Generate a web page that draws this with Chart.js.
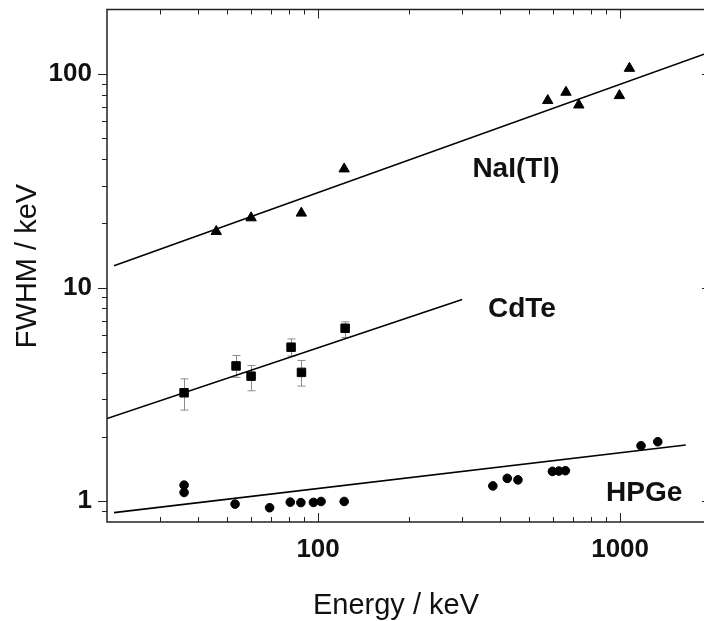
<!DOCTYPE html>
<html>
<head>
<meta charset="utf-8">
<script src="https://cdn.jsdelivr.net/npm/chart.js@4.4.1/dist/chart.umd.min.js"></script>
<style>
  html, body { margin: 0; padding: 0; overflow: hidden; background: #fff; }
  #wrap { position: relative; width: 712px; height: 621px; }
  canvas { display: block; }
</style>
</head>
<body>
<div id="wrap"><canvas id="c"></canvas></div>
<script>
// Measured resolution (FWHM) of three detector types versus gamma energy.

// NaI(Tl) scintillator
const naiEnergy = [46, 60, 88, 122, 576, 662, 730, 995, 1074];
const naiFwhm   = [18.3, 21.2, 22.3, 35.9, 75.0, 82.0, 71.5, 79.1, 106.1];

// CdTe semiconductor, with uncertainty range
const cdteEnergy  = [36, 53.5, 60, 81.4, 88.1, 122.9];
const cdteFwhm    = [3.22, 4.30, 3.85, 5.26, 4.01, 6.45];
const cdteErrLow  = [2.67, 3.80, 3.29, 4.78, 3.46, 5.84];
const cdteErrHigh = [3.74, 4.81, 4.32, 5.75, 4.56, 6.91];

// HPGe semiconductor
const hpgeEnergy = [36, 36, 53.1, 69.1, 80.9, 87.7, 96.5, 102.3, 122, 379, 423, 459, 597, 627, 659, 1173, 1333];
const hpgeFwhm   = [1.19, 1.10, 0.97, 0.933, 0.991, 0.986, 0.988, 0.998, 0.998, 1.18, 1.28, 1.26, 1.38, 1.385, 1.39, 1.82, 1.90];

// Power-law fit lines (end points)
const naiFitEnergy  = [21.1, 2000];
const naiFitFwhm    = [12.66, 127];
const cdteFitEnergy = [20, 300];
const cdteFitFwhm   = [2.44, 8.8];
const hpgeFitEnergy = [21.1, 1650];
const hpgeFitFwhm   = [0.885, 1.835];

// Axis ranges and labelled ticks
const energyRange = [20, 2000];
const fwhmRange   = [0.8, 200];
const energyTickLabels = [100, 1000];
const fwhmTickLabels   = [1, 10, 100];

const FONT = '"Liberation Sans", Arial, Helvetica, sans-serif';
const INK = '#111';

const pts = (xs, ys) => xs.map((x, i) => ({ x, y: ys[i] }));
const near = (v, list) => list.some(t => Math.abs(v - t) / t < 1e-6);

// 1..9 × 10^n tick positions inside a log range; decade flag marks the long ticks
function logTicks(min, max) {
  const out = [];
  for (let e = Math.floor(Math.log10(min)); e <= Math.ceil(Math.log10(max)); e++) {
    for (let m = 1; m <= 9; m++) {
      const v = m * Math.pow(10, e);
      if (v > min * 1.0001 && v < max * 0.9999) out.push({ v, decade: m === 1 });
    }
  }
  return out;
}

const seriesLabels = [
  { text: 'NaI(Tl)', energy: 452, fwhm: 36.8 },
  { text: 'CdTe',    energy: 473, fwhm: 8.1 },
  { text: 'HPGe',    energy: 1201, fwhm: 1.12 }
];

const framePlugin = {
  id: 'frame',
  beforeDatasetsDraw(chart) {
    const { ctx, chartArea: a, scales: { x, y } } = chart;
    ctx.save();
    // error bars for CdTe
    ctx.strokeStyle = '#8c8c8c';
    ctx.lineWidth = 1;
    ctx.beginPath();
    cdteEnergy.forEach((e, i) => {
      const px = Math.round(x.getPixelForValue(e)) + 0.5;
      const hi = y.getPixelForValue(cdteErrHigh[i]);
      const lo = y.getPixelForValue(cdteErrLow[i]);
      ctx.moveTo(px, hi); ctx.lineTo(px, lo);
      ctx.moveTo(px - 4, hi); ctx.lineTo(px + 4, hi);
      ctx.moveTo(px - 4, lo); ctx.lineTo(px + 4, lo);
    });
    ctx.stroke();

    // frame
    ctx.strokeStyle = '#222';
    ctx.lineWidth = 1.5;
    ctx.strokeRect(a.left, a.top, a.right - a.left, a.bottom - a.top);

    // tick marks: energy ticks point inward, FWHM ticks outward on the left, inward on the right
    ctx.lineWidth = 1;
    ctx.beginPath();
    logTicks(energyRange[0], energyRange[1]).forEach(t => {
      const px = Math.round(x.getPixelForValue(t.v)) + 0.5;
      const len = t.decade ? 9 : 5;
      ctx.moveTo(px, a.bottom); ctx.lineTo(px, a.bottom - len);
      ctx.moveTo(px, a.top); ctx.lineTo(px, a.top + len);
    });
    logTicks(fwhmRange[0], fwhmRange[1]).forEach(t => {
      const py = Math.round(y.getPixelForValue(t.v)) + 0.5;
      const len = t.decade ? 9 : 5;
      ctx.moveTo(a.left, py); ctx.lineTo(a.left - len, py);
      ctx.moveTo(a.right, py); ctx.lineTo(a.right - len, py);
    });
    ctx.stroke();
    ctx.restore();
  },
  afterDraw(chart) {
    const { ctx, scales: { x, y } } = chart;
    ctx.save();
    ctx.fillStyle = INK;

    // series names
    ctx.font = 'bold 28px ' + FONT;
    ctx.textAlign = 'center';
    ctx.textBaseline = 'alphabetic';
    seriesLabels.forEach(l => {
      ctx.fillText(l.text, x.getPixelForValue(l.energy), y.getPixelForValue(l.fwhm) + 10);
    });

    // axis titles
    ctx.font = '29px ' + FONT;
    ctx.fillText('Energy / keV', 396, 614);
    ctx.translate(36, 266);
    ctx.rotate(-Math.PI / 2);
    ctx.fillText('FWHM / keV', 0, 0);
    ctx.restore();
  }
};

const tickFont = { family: FONT, size: 26, weight: 'bold' };

new Chart(document.getElementById('c'), {
  type: 'scatter',
  data: {
    datasets: [
      { data: pts(naiFitEnergy, naiFitFwhm), showLine: true, borderColor: '#000', borderWidth: 1.6, pointRadius: 0 },
      { data: pts(cdteFitEnergy, cdteFitFwhm), showLine: true, borderColor: '#000', borderWidth: 1.6, pointRadius: 0 },
      { data: pts(hpgeFitEnergy, hpgeFitFwhm), showLine: true, borderColor: '#000', borderWidth: 1.6, pointRadius: 0 },
      { data: pts(naiEnergy, naiFwhm), pointStyle: 'triangle', pointRadius: 6, backgroundColor: '#000', borderColor: '#000', borderWidth: 1 },
      { data: pts(cdteEnergy, cdteFwhm), pointStyle: 'rect', pointRadius: 6, backgroundColor: '#000', borderColor: '#000', borderWidth: 1 },
      { data: pts(hpgeEnergy, hpgeFwhm), pointStyle: 'circle', pointRadius: 4.3, backgroundColor: '#000', borderColor: '#000', borderWidth: 1 }
    ]
  },
  options: {
    responsive: true,
    maintainAspectRatio: false,
    devicePixelRatio: 1,
    animation: false,
    events: [],
    layout: { autoPadding: false, padding: { top: 9.5, right: 1, bottom: 0, left: 0 } },
    plugins: { legend: { display: false }, tooltip: { enabled: false } },
    scales: {
      x: {
        type: 'logarithmic',
        position: 'bottom',
        min: energyRange[0],
        max: energyRange[1],
        grid: { display: false, drawTicks: false },
        border: { display: false },
        ticks: {
          autoSkip: false, maxRotation: 0, minRotation: 0, padding: 12,
          font: tickFont, color: INK,
          callback: v => near(v, energyTickLabels) ? String(Math.round(v)) : null
        },
        afterFit: s => { s.height = 99; s.paddingLeft = 0; s.paddingRight = 0; }
      },
      y: {
        type: 'logarithmic',
        position: 'left',
        min: fwhmRange[0],
        max: fwhmRange[1],
        grid: { display: false, drawTicks: false },
        border: { display: false },
        ticks: {
          autoSkip: false, padding: 15,
          font: tickFont, color: INK,
          callback: v => near(v, fwhmTickLabels) ? String(Math.round(v)) : null
        },
        afterFit: s => { s.width = 107; s.paddingTop = 0; s.paddingBottom = 0; }
      }
    }
  },
  plugins: [framePlugin]
});
</script>
</body>
</html>
